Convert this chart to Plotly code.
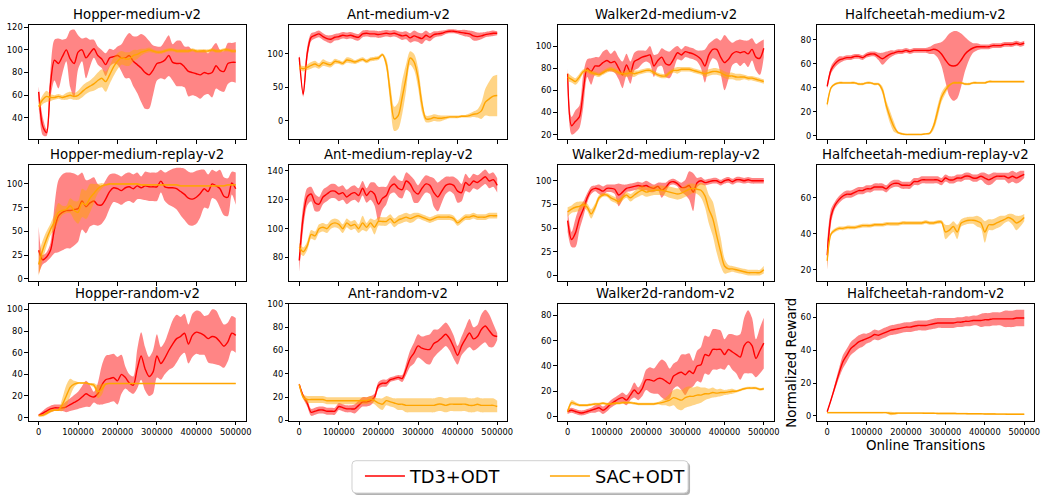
import plotly.graph_objects as go

W, H = 1058, 500

# Online transitions at which every run was evaluated
steps = list(range(0, 500001, 10000))
x_ticks = [0, 100000, 200000, 300000, 400000, 500000]
x_tick_labels = ["0", "100000", "200000", "300000", "400000", "500000"]

titles = [
    "Hopper-medium-v2", "Ant-medium-v2", "Walker2d-medium-v2", "Halfcheetah-medium-v2",
    "Hopper-medium-replay-v2", "Ant-medium-replay-v2", "Walker2d-medium-replay-v2",
    "Halfcheetah-medium-replay-v2",
    "Hopper-random-v2", "Ant-random-v2", "Walker2d-random-v2", "Halfcheetah-random-v2",
]
series_names = ["TD3+ODT", "SAC+ODT"]

# ---- normalized reward: mean and spread over seeds ----
HM_TD3 = [63, 33, 27, 70, 91, 88, 94, 100, 92, 88,
          98, 100, 93, 97, 101, 95, 92, 87, 93, 94,
          95, 93, 93, 95, 90, 87, 84, 80, 78, 82,
          88, 89, 91, 95, 89, 88, 88, 85, 81, 80,
          79, 78, 80, 79, 80, 86, 82, 81, 88, 89,
          89]
HM_TD3_SD = [5, 8, 3, 12, 18, 22, 15, 10, 25, 30,
             15, 10, 18, 12, 8, 8, 8, 10, 8, 6,
             8, 12, 18, 20, 22, 25, 30, 32, 30, 22,
             15, 14, 17, 18, 16, 20, 20, 18, 22, 20,
             20, 21, 20, 18, 22, 20, 18, 18, 18, 17,
             18]
HM_SAC = [50, 56, 59, 58, 58, 59, 58, 59, 60, 59,
          60, 63, 66, 68, 70, 73, 75, 72, 78, 85,
          90, 93, 92, 92, 95, 96, 98, 99, 100, 99,
          98, 98, 99, 100, 100, 99, 99, 99, 99, 100,
          99, 99, 99, 99, 100, 99, 99, 100, 100, 99,
          99]
HM_SAC_SD = [3, 4, 5, 3, 2, 2, 2, 3, 3, 3,
             4, 5, 5, 5, 6, 7, 8, 9, 8, 8,
             7, 6, 6, 6, 5, 4, 3, 2, 2, 1.5,
             1.5, 1.5, 1.5, 1.5, 1.5, 1.5, 1.5, 1.5, 1.5, 1.5,
             1.5, 1.5, 1.5, 1.5, 1.5, 1.5, 1.5, 1.5, 1.5, 1.5,
             1.5]

AM_TD3 = [95, 40, 100, 125, 128, 130, 126, 123, 122, 125,
          126, 128, 127, 128, 126, 125, 130, 131, 130, 130,
          129, 130, 131, 130, 131, 129, 127, 128, 124, 127,
          125, 123, 128, 125, 129, 130, 131, 133, 134, 134,
          133, 132, 131, 130, 127, 126, 127, 129, 130, 131,
          131]
AM_TD3_SD = [5, 4, 10, 6, 5, 5, 5, 5, 6, 5,
             5, 5, 5, 5, 5, 5, 5, 5, 5, 5,
             5, 5, 5, 5, 5, 5, 6, 6, 7, 8,
             7, 8, 7, 6, 5, 4, 4, 3, 3, 3,
             3, 4, 5, 5, 7, 6, 5, 4, 4, 4,
             3]
AM_SAC = [80, 78, 80, 83, 85, 82, 87, 85, 84, 89,
          88, 86, 91, 90, 88, 90, 92, 89, 92, 93,
          94, 99, 85, 40, 3, 8, 35, 65, 94, 88,
          65, 25, 3, 3, 5, 4, 4, 5, 6, 6,
          6, 7, 7, 8, 10, 11, 15, 28, 33, 37,
          38]
AM_SAC_SD = [4, 4, 4, 5, 5, 4, 5, 4, 4, 4,
             3, 3, 4, 4, 3, 3, 3, 3, 3, 3,
             3, 2, 8, 15, 18, 20, 25, 20, 10, 12,
             15, 12, 5, 5, 5, 5, 4, 3, 2, 2,
             2, 2, 2, 3, 4, 6, 12, 20, 26, 30,
             31]

WM_TD3 = [75, 28, 32, 36, 60, 80, 77, 82, 82, 85,
          87, 85, 86, 80, 74, 83, 76, 86, 88, 90,
          91, 92, 82, 87, 90, 84, 83, 88, 94, 92,
          95, 94, 93, 91, 88, 82, 92, 97, 97, 90,
          85, 88, 93, 95, 94, 95, 93, 97, 90, 89,
          98]
WM_TD3_SD = [5, 8, 10, 10, 15, 8, 12, 8, 8, 10,
             10, 8, 10, 10, 12, 10, 10, 8, 8, 6,
             5, 8, 10, 6, 8, 12, 12, 10, 6, 5,
             5, 5, 5, 5, 8, 15, 10, 8, 10, 15,
             25, 18, 10, 10, 12, 10, 12, 10, 12, 15,
             8]
WM_SAC = [72, 70, 68, 72, 77, 78, 76, 75, 74, 76,
          78, 79, 78, 76, 75, 75, 76, 75, 76, 77,
          78, 78, 76, 74, 73, 73, 76, 78, 78, 79,
          79, 79, 78, 77, 76, 75, 76, 77, 77, 76,
          74, 73, 73, 72, 72, 72, 71, 71, 70, 69,
          68]
WM_SAC_SD = [4, 3, 3, 3, 2, 2, 2, 2, 2, 2,
             2, 2, 2, 2, 2, 3, 3, 3, 2, 2,
             2, 2, 2, 2, 2, 2, 2, 2, 3, 2,
             2, 2, 2, 2, 2, 3, 3, 3, 3, 3,
             3, 3, 3, 3, 3, 2, 2, 2, 2, 2,
             2]

HCM_TD3 = [41, 55, 60, 63, 64, 65, 65, 66, 66, 65,
           67, 68, 68, 66, 64, 66, 68, 69, 70, 70,
           71, 70, 71, 71, 71, 71, 71, 72, 71, 68,
           63, 59, 58, 59, 63, 68, 71, 73, 74, 74,
           74, 74, 75, 75, 75, 76, 76, 76, 77, 76,
           77]
HCM_TD3_SD = [2, 3, 3, 3, 2, 2, 2, 2, 2, 2,
              2, 2, 2, 3, 5, 4, 3, 2, 2, 2,
              2, 2, 2, 2, 2, 2, 3, 4, 6, 10,
              18, 26, 29, 28, 22, 14, 8, 4, 3, 2,
              2, 2, 2, 2, 2, 2, 2, 2, 2, 2,
              2]
HCM_SAC = [26, 40, 43, 44, 44, 44, 44, 44, 43, 43,
           44, 44, 43, 43, 38, 25, 15, 7, 2.5, 1.5,
           1, 1, 1, 1, 1, 1.5, 2, 8, 20, 32,
           38, 42, 44, 44, 44, 43, 43, 44, 44, 44,
           44, 45, 45, 45, 45, 45, 45, 45, 45, 45,
           45]
HCM_SAC_SD = [3, 1, 1, 1, 1, 1, 1, 1, 1, 1,
              1, 1, 1, 1, 3, 4, 5, 4, 1, 1,
              0.5, 0.5, 0.5, 0.5, 0.5, 0.5, 1, 3, 5, 4,
              3, 1, 1, 1, 1, 1, 1, 1, 1, 1,
              1, 1, 1, 1, 1, 1, 1, 1, 1, 1,
              1]

HMR_TD3 = [30, 20, 23, 30, 52, 66, 70, 72, 72, 73,
           74, 82, 76, 80, 82, 78, 78, 84, 92, 96,
           95, 93, 96, 97, 95, 98, 96, 98, 97, 97,
           97, 103, 97, 96, 96, 95, 92, 89, 85, 84,
           86, 90, 95, 92, 100, 98, 95, 87, 86, 101,
           95]
HMR_TD3_SD = [25, 5, 5, 8, 25, 38, 40, 40, 40, 38,
              35, 30, 28, 25, 25, 22, 20, 20, 18, 15,
              15, 15, 15, 15, 15, 14, 12, 15, 15, 15,
              15, 12, 15, 18, 20, 22, 25, 27, 28, 28,
              28, 25, 20, 18, 15, 15, 20, 20, 20, 12,
              17]
HMR_SAC = [15, 30, 42, 52, 60, 70, 72, 73, 77, 72,
           70, 80, 78, 85, 90, 95, 98, 99, 100, 100,
           100, 100, 100, 100, 100, 100, 99, 99, 99, 99,
           99, 99, 99, 99, 99, 99, 98, 98, 98, 98,
           98, 98, 98, 98, 98, 98, 98, 98, 99, 99,
           99]
HMR_SAC_SD = [12, 10, 8, 6, 8, 10, 5, 4, 8, 10,
              12, 15, 15, 15, 10, 5, 3, 1, 1, 1,
              1, 1, 1, 1, 1, 1, 1, 1, 1, 1,
              1, 1, 1, 1, 1, 1, 1, 1, 1, 1,
              1, 1, 1, 1, 1, 1, 1, 1, 1, 1,
              1]

AMR_TD3 = [78, 108, 122, 124, 118, 117, 122, 124, 126, 126,
           124, 125, 122, 124, 125, 123, 128, 123, 126, 124,
           117, 121, 123, 129, 131, 128, 127, 133, 131, 126,
           124, 128, 131, 130, 125, 122, 126, 130, 131, 130,
           126, 125, 132, 130, 133, 132, 134, 136, 133, 134,
           130]
AMR_TD3_SD = [8, 8, 6, 5, 6, 5, 5, 5, 5, 5,
              5, 5, 5, 5, 5, 5, 5, 5, 6, 8,
              12, 8, 6, 5, 6, 6, 6, 6, 6, 8,
              6, 6, 6, 6, 10, 10, 8, 6, 5, 6,
              8, 6, 6, 5, 5, 5, 5, 5, 5, 5,
              5]
AMR_SAC = [87, 84, 88, 96, 95, 100, 101, 100, 103, 104,
           103, 100, 104, 102, 103, 100, 104, 101, 104, 101,
           105, 105, 105, 107, 104, 106, 107, 108, 107, 108,
           109, 108, 107, 106, 107, 108, 108, 108, 108, 107,
           104, 106, 108, 108, 109, 108, 108, 108, 109, 109,
           109]
AMR_SAC_SD = [3, 3, 3, 3, 3, 3, 3, 3, 3, 3,
              3, 3, 3, 3, 3, 3, 5, 3, 3, 5,
              3, 3, 3, 3, 3, 3, 3, 3, 3, 3,
              2, 2, 2, 2, 2, 2, 2, 2, 2, 2,
              2, 2, 2, 2, 2, 2, 2, 2, 2, 2,
              2]

WMR_TD3 = [58, 38, 45, 60, 70, 82, 90, 92, 91, 89,
           92, 92, 91, 85, 88, 92, 93, 94, 95, 94,
           95, 93, 92, 94, 90, 93, 98, 99, 97, 93,
           93, 95, 88, 98, 100, 98, 99, 100, 100, 98,
           100, 101, 99, 101, 101, 100, 101, 100, 100, 100,
           100]
WMR_TD3_SD = [12, 8, 15, 12, 8, 5, 4, 3, 5, 5,
              4, 4, 5, 12, 8, 4, 4, 4, 4, 4,
              5, 5, 4, 4, 8, 5, 3, 3, 3, 5,
              8, 15, 20, 5, 4, 3, 3, 3, 3, 3,
              3, 3, 3, 3, 3, 3, 3, 3, 3, 3,
              3]
WMR_SAC = [67, 70, 72, 73, 75, 72, 65, 72, 82, 85,
           85, 82, 80, 78, 82, 85, 82, 85, 88, 90,
           88, 89, 90, 90, 90, 89, 88, 87, 86, 87,
           89, 91, 92, 91, 90, 84, 70, 60, 42, 25,
           10, 7, 7, 6, 5, 4, 3, 3, 3, 3,
           6]
WMR_SAC_SD = [5, 4, 5, 5, 3, 4, 5, 4, 3, 2,
              2, 3, 3, 3, 3, 3, 4, 4, 5, 5,
              5, 5, 5, 5, 5, 5, 6, 6, 6, 6,
              6, 6, 5, 5, 8, 12, 15, 18, 18, 15,
              8, 4, 3, 3, 3, 3, 3, 3, 3, 3,
              4]

HCMR_TD3 = [28, 50, 56, 59, 61, 62, 62, 63, 64, 64,
            65, 65, 66, 66, 66, 65, 67, 68, 68, 67,
            67, 67, 69, 69, 70, 70, 70, 70, 70, 69,
            71, 70, 70, 71, 71, 72, 72, 71, 71, 72,
            71, 70, 71, 72, 72, 72, 71, 72, 71, 72,
            73]
HCMR_TD3_SD = [8, 4, 2, 2, 2, 2, 2, 2, 2, 2,
               2, 2, 2, 2, 2, 2, 2, 2, 2, 2,
               2, 2, 2, 2, 2, 2, 2, 2, 2, 2,
               2, 2, 2, 2, 2, 2, 2, 2, 2, 2,
               3, 3, 3, 2, 2, 2, 3, 3, 3, 3,
               2]
HCMR_SAC = [25, 40, 42, 43, 43, 43.5, 43.5, 43.5, 44, 44.5,
            44.5, 44.5, 45, 45, 45, 45.5, 45.5, 45.5, 45.5, 46,
            46, 46, 46, 46, 46, 46.5, 46, 46, 46.5, 46.5,
            41, 42, 44, 41, 46, 47, 47.5, 47.5, 47, 46,
            41, 45, 45, 46, 47, 48, 49, 48, 46, 47,
            49]
HCMR_SAC_SD = [5, 1, 1, 1, 1, 1, 1, 1, 1, 1,
               1, 1, 1, 1, 1, 1, 1, 1, 1, 1,
               1, 1, 1, 1, 1, 1, 1, 1, 1, 1,
               4, 3, 3, 4, 2, 2, 2, 2, 3, 3,
               6, 3, 3, 3, 3, 2, 2, 3, 4, 3,
               2]

HR_TD3 = [2, 4, 6, 8, 9, 9, 9, 10, 12, 14,
          16, 19, 22, 20, 19, 22, 30, 35, 36, 37,
          34, 40, 37, 32, 30, 45, 57, 45, 38, 42,
          57, 50, 55, 62, 68, 73, 75, 78, 68, 76,
          79, 78, 76, 73, 75, 74, 70, 66, 70, 78,
          76]
HR_TD3_SD = [1, 2, 3, 3, 3, 3, 3, 5, 6, 7,
             8, 10, 12, 10, 5, 10, 18, 22, 22, 22,
             22, 18, 10, 8, 8, 18, 22, 20, 18, 20,
             20, 15, 15, 18, 22, 22, 18, 18, 18, 20,
             20, 20, 18, 22, 25, 25, 22, 20, 18, 16,
             16]
HR_SAC = [2, 2, 4, 6, 7, 7, 12, 20, 28, 31,
          32, 32, 32, 31, 30, 24, 26, 31, 31.5, 31.5,
          31.5, 31.5, 31.5, 31.5, 31.5, 31.5, 31.5, 31.5, 31.5, 31.5,
          31.5, 31.5, 31.5, 31.5, 31.5, 31.5, 31.5, 31.5, 31.5, 31.5,
          31.5, 31.5, 31.5, 31.5, 31.5, 31.5, 31.5, 31.5, 31.5, 31.5,
          31.5]
HR_SAC_SD = [0.5, 1, 1.5, 1.5, 1, 1, 6, 10, 8, 3,
             1, 0.5, 0.5, 1, 2, 6, 5, 1, 0.5, 0.5,
             0.5, 0.5, 0.5, 0.5, 0.5, 0.5, 0.5, 0.5, 0.5, 0.5,
             0.5, 0.5, 0.5, 0.5, 0.5, 0.5, 0.5, 0.5, 0.5, 0.5,
             0.5, 0.5, 0.5, 0.5, 0.5, 0.5, 0.5, 0.5, 0.5, 0.5,
             0.5]

AR_TD3 = [31, 21, 15, 7, 8, 9, 9, 8, 8, 8,
          12, 11, 10, 10, 10, 13, 16, 16, 17, 20,
          30, 32, 32, 35, 36, 37, 36, 44, 53, 58,
          64, 62, 61, 61, 66, 68, 71, 74, 70, 63,
          56, 64, 70, 75, 70, 72, 78, 81, 77, 73,
          72]
AR_TD3_SD = [1, 2, 3, 3, 3, 3, 3, 3, 3, 3,
             3, 3, 3, 3, 4, 4, 4, 4, 4, 3,
             3, 3, 3, 2, 2, 2, 3, 5, 7, 9,
             10, 10, 12, 13, 12, 10, 10, 10, 10, 10,
             8, 8, 10, 12, 10, 10, 13, 14, 14, 10,
             3]
AR_SAC = [31, 20, 18, 18, 18, 18, 18, 17, 17, 17,
          17, 17, 17, 17, 17, 17, 17, 17, 18, 17,
          15, 14, 17, 16, 15, 14, 14, 13, 13, 13,
          13, 13, 13, 13, 13, 14, 14, 13, 14, 14,
          14, 14, 14, 13, 13, 14, 13, 13, 13, 13,
          12]
AR_SAC_SD = [1, 2, 3, 3, 3, 3, 3, 3, 3, 3,
             3, 3, 3, 3, 3, 3, 3, 3, 3, 3,
             4, 5, 4, 4, 4, 5, 5, 6, 6, 6,
             6, 6, 6, 6, 6, 6, 6, 6, 6, 6,
             6, 6, 6, 6, 6, 6, 6, 6, 6, 6,
             5]

WR_TD3 = [4, 5, 4, 3, 3, 4, 5, 6, 7, 5,
          7, 10, 12, 14, 15, 13, 17, 21, 18, 22,
          29, 29, 28, 30, 30, 28, 26, 32, 34, 35,
          33, 36, 34, 40, 41, 49, 48, 53, 53, 53,
          49, 53, 51, 49, 47, 56, 59, 56, 46, 52,
          58]
WR_TD3_SD = [2, 2, 2, 2, 2, 2, 2, 3, 3, 3,
             3, 3, 3, 3, 4, 4, 4, 6, 5, 6,
             8, 10, 10, 12, 15, 15, 12, 10, 10, 14,
             16, 14, 10, 12, 14, 15, 15, 16, 16, 15,
             12, 12, 14, 15, 18, 22, 25, 22, 15, 18,
             20]
WR_SAC = [4, 11, 10, 9, 9, 9, 9.5, 10, 10, 10.5,
          10, 10, 10.5, 10.5, 11, 11, 11, 10.5, 10, 10,
          10, 10, 10, 10.5, 11, 12, 13, 15, 14, 13,
          15, 16, 16, 17, 17, 18, 18, 19, 18.5, 19,
          19, 19.5, 20, 20, 21, 22, 22.5, 22.5, 22.5, 21.5,
          22]
WR_SAC_SD = [2, 2, 1.5, 1, 1, 1, 1, 1, 1, 1,
             1, 1, 1, 1, 1, 1, 1, 1, 1, 1,
             1, 1, 1, 1, 2, 3, 5, 6, 8, 8,
             8, 8, 7, 7, 6, 5, 4, 4, 3, 3,
             2, 2, 2, 1, 1, 1, 1, 1, 1, 1,
             1]

HCR_TD3 = [2.5, 10, 18, 26, 33, 37, 41, 43, 45, 46,
           47, 48, 49.5, 49, 50, 51, 52, 52.5, 53, 53.5,
           54, 54, 54.5, 55, 55, 55, 55.5, 56, 56.5, 56.5,
           56.5, 56.5, 56.5, 57, 57, 57.5, 57.5, 58, 58, 58,
           58.5, 58.5, 59, 59, 59, 59, 59, 59, 59.5, 59.5,
           59.5]
HCR_TD3_SD = [0.5, 1, 2, 3, 4, 4, 4, 4, 4, 4,
              3, 3, 3, 3, 3, 3, 3, 3, 3, 3,
              3, 3, 3, 3, 3, 3, 3, 3, 3, 3,
              3, 3, 3, 3, 3, 3, 3, 3, 3, 4,
              4, 4, 4, 4, 4, 5, 5, 5, 5, 5,
              5]
HCR_SAC = [2, 2, 2, 2, 2, 2, 2, 2, 2, 2,
           2, 2, 2, 2, 2, 2, 1.5, 1.5, 1.7, 1.7,
           1.7, 1.7, 1.7, 1.7, 1.7, 1.6, 1.6, 1.6, 1.5, 1.5,
           1.5, 1.5, 1.5, 1.4, 1.4, 1.4, 1.3, 1.3, 1.3, 1.3,
           1.2, 1.2, 1.2, 1.1, 1.1, 1.1, 1.0, 1.0, 1.0, 1.0,
           1.0]
HCR_SAC_SD = [0.5, 0.5, 0.5, 0.5, 0.5, 0.5, 0.5, 0.5, 0.5, 0.5,
              0.5, 0.5, 0.5, 0.5, 0.5, 0.5, 1, 0.8, 0.5, 0.5,
              0.5, 0.5, 0.5, 0.5, 0.5, 0.5, 0.5, 0.5, 0.5, 0.5,
              0.5, 0.5, 0.5, 0.5, 0.5, 0.5, 0.5, 0.5, 0.5, 0.5,
              0.5, 0.5, 0.5, 0.5, 0.5, 0.5, 0.5, 0.5, 0.5, 0.5,
              0.5]

panel_data = [
    (HM_TD3, HM_TD3_SD, HM_SAC, HM_SAC_SD),
    (AM_TD3, AM_TD3_SD, AM_SAC, AM_SAC_SD),
    (WM_TD3, WM_TD3_SD, WM_SAC, WM_SAC_SD),
    (HCM_TD3, HCM_TD3_SD, HCM_SAC, HCM_SAC_SD),
    (HMR_TD3, HMR_TD3_SD, HMR_SAC, HMR_SAC_SD),
    (AMR_TD3, AMR_TD3_SD, AMR_SAC, AMR_SAC_SD),
    (WMR_TD3, WMR_TD3_SD, WMR_SAC, WMR_SAC_SD),
    (HCMR_TD3, HCMR_TD3_SD, HCMR_SAC, HCMR_SAC_SD),
    (HR_TD3, HR_TD3_SD, HR_SAC, HR_SAC_SD),
    (AR_TD3, AR_TD3_SD, AR_SAC, AR_SAC_SD),
    (WR_TD3, WR_TD3_SD, WR_SAC, WR_SAC_SD),
    (HCR_TD3, HCR_TD3_SD, HCR_SAC, HCR_SAC_SD),
]
for arrays in panel_data:
    for a in arrays:
        if len(a) != len(steps):
            raise ValueError(f"series length {len(a)} != {len(steps)}")

# ---- axis settings ----
y_ranges = [(21.2, 122.3), (-27.4, 143.9), (15.8, 119.4), (-3.0, 92.5),
            (-2.8, 120.3), (63.5, 144.3), (-6.2, 116.9), (13.5, 78.4),
            (-2.7, 105.1), (0, 100), (-3.1, 89.0), (-2.8, 68.1)]
y_dticks = [20, 50, 20, 20, 25, 20, 25, 20, 20, 20, 20, 20]

col_px = [(29, 247), (291, 510), (561, 778), (822, 1040)]
row_px = [(20, 137), (163, 282), (305, 424)]

line_colors = ["#ff0000", "#ffa500"]
band_colors = ["rgba(255,0,0,0.48)", "rgba(255,165,0,0.48)"]
FONT = "DejaVu Sans"

fig = go.Figure()
layout = dict(
    width=W, height=H, margin=dict(l=0, r=0, t=0, b=0),
    paper_bgcolor="white", plot_bgcolor="white",
    font=dict(family=FONT, color="black"),
    showlegend=True, hovermode=False,
)
annotations = []

for k, (td3, td3_sd, sac, sac_sd) in enumerate(panel_data):
    r, c = divmod(k, 4)
    n = k + 1
    suffix = "" if n == 1 else str(n)
    xref, yref = "x" + suffix, "y" + suffix
    x0, x1 = col_px[c]
    y0, y1 = row_px[r]

    layout["xaxis" + suffix] = dict(
        domain=[x0 / W, x1 / W], anchor=yref, range=[-25000, 525000],
        tickmode="array", tickvals=x_ticks, ticktext=x_tick_labels,
        showticklabels=(r == 2), ticks="outside", ticklen=3.5, tickwidth=0.8,
        tickcolor="black", showline=True, mirror=True, linecolor="black",
        linewidth=1, showgrid=False, zeroline=False,
        tickfont=dict(size=8.3, family=FONT, color="black"),
    )
    layout["yaxis" + suffix] = dict(
        domain=[1 - y1 / H, 1 - y0 / H], anchor=xref, range=list(y_ranges[k]),
        tick0=0, dtick=y_dticks[k], ticks="outside", ticklen=3.5, tickwidth=0.8,
        tickcolor="black", showline=True, mirror=True, linecolor="black",
        linewidth=1, showgrid=False, zeroline=False,
        tickfont=dict(size=8.3, family=FONT, color="black"),
    )

    for s, (mean, sd) in enumerate([(td3, td3_sd), (sac, sac_sd)]):
        lower = [m - d for m, d in zip(mean, sd)]
        upper = [m + d for m, d in zip(mean, sd)]
        fig.add_trace(go.Scatter(
            x=steps, y=lower, xaxis=xref, yaxis=yref, mode="lines",
            line=dict(width=0, shape="spline", smoothing=0.8),
            showlegend=False, hoverinfo="skip"))
        fig.add_trace(go.Scatter(
            x=steps, y=upper, xaxis=xref, yaxis=yref, mode="lines",
            line=dict(width=0, shape="spline", smoothing=0.8),
            fill="tonexty", fillcolor=band_colors[s],
            showlegend=False, hoverinfo="skip"))
        fig.add_trace(go.Scatter(
            x=steps, y=mean, xaxis=xref, yaxis=yref, mode="lines",
            line=dict(width=1.4, color=line_colors[s], shape="spline", smoothing=0.8),
            name=series_names[s], showlegend=(k == 0)))

    annotations.append(dict(
        text=titles[k], x=(x0 + x1) / 2 / W, y=1 - y0 / H, xref="paper", yref="paper",
        xanchor="center", yanchor="bottom", yshift=1, showarrow=False,
        font=dict(size=13.3, family=FONT, color="black")))

annotations.append(dict(
    text="Normalized Reward", x=796 / W, y=1 - 364.5 / H, xref="paper", yref="paper",
    xanchor="center", yanchor="middle", textangle=-90, showarrow=False,
    font=dict(size=13.4, family=FONT, color="black")))
annotations.append(dict(
    text="Online Transitions", x=931 / W, y=1 - 449 / H, xref="paper", yref="paper",
    xanchor="center", yanchor="middle", showarrow=False,
    font=dict(size=13.4, family=FONT, color="black")))


def rounded_rect(px0, py0, px1, py1, rad):
    """SVG path in paper coordinates for a box with rounded corners."""
    def p(x, y):
        return f"{x / W:.5f},{1 - y / H:.5f}"
    return (f"M {p(px0 + rad, py0)} L {p(px1 - rad, py0)} Q {p(px1, py0)} {p(px1, py0 + rad)} "
            f"L {p(px1, py1 - rad)} Q {p(px1, py1)} {p(px1 - rad, py1)} "
            f"L {p(px0 + rad, py1)} Q {p(px0, py1)} {p(px0, py1 - rad)} "
            f"L {p(px0, py0 + rad)} Q {p(px0, py0)} {p(px0 + rad, py0)} Z")


legend_box = (354, 465, 692, 498)
shapes = [
    dict(type="path", xref="paper", yref="paper",
         path=rounded_rect(legend_box[0] + 2, legend_box[1] + 2,
                           legend_box[2] + 2, legend_box[3] + 2, 4),
         fillcolor="rgba(0,0,0,0.3)", line=dict(width=0), layer="above"),
    dict(type="path", xref="paper", yref="paper",
         path=rounded_rect(*legend_box, 4),
         fillcolor="white", line=dict(width=1, color="#d0d0d0"), layer="above"),
]

layout["annotations"] = annotations
layout["shapes"] = shapes
layout["legend"] = dict(
    orientation="h", x=362 / W, y=1 - 481 / H, xanchor="left", yanchor="middle",
    bgcolor="rgba(0,0,0,0)", borderwidth=0, itemwidth=40, traceorder="normal",
    font=dict(size=17.8, family=FONT, color="black"),
    entrywidth=130, entrywidthmode="pixels",
)
fig.update_layout(**layout)
fig.write_html("out.html")
